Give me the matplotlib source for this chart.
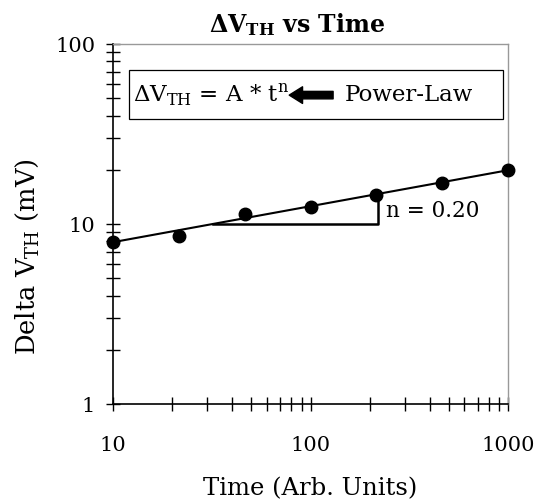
import numpy as np
import matplotlib
matplotlib.use("Agg")
from matplotlib import pyplot as plt
from matplotlib.patches import Rectangle

# data
time = [10, 21.5, 46.4, 100, 215, 464, 1000]
delta_vth = [7.9, 8.6, 11.4, 12.5, 14.4, 16.8, 20.0]

# power-law fit shown on the chart
fit_A = 5.0
fit_n = 0.20
fit_t = [10, 1000]

# slope triangle corners (x range at y = 10)
tri_t = [32, 220]
tri_y = 10

plt.rcParams['font.family'] = ['DejaVu Serif']
plt.rcParams['mathtext.fontset'] = 'custom'
plt.rcParams['mathtext.rm'] = 'DejaVu Serif'
plt.rcParams['mathtext.bf'] = 'DejaVu Serif:bold'

fig = plt.figure(figsize=(5.35, 5.0), dpi=100)
ax = fig.add_axes([0.211, 0.192, 0.739, 0.72])

fit_y = [fit_A * t ** fit_n for t in fit_t]
ax.plot(fit_t, fit_y, color='black', lw=1.5, zorder=2, clip_on=False)
ax.plot(time, delta_vth, 'o', color='black', ms=9, zorder=3, clip_on=False)

# triangle showing the slope
ax.plot([tri_t[0], tri_t[1], tri_t[1]],
        [tri_y, tri_y, fit_A * tri_t[1] ** fit_n], color='black', lw=1.8, zorder=2)
ax.text(tri_t[1] * 1.09, 11.8, 'n = %.2f' % fit_n, fontsize=15.5, va='center', ha='left')

ax.set_xscale('log')
ax.set_yscale('log')
ax.set_xlim(10, 1000)
ax.set_ylim(1, 100)
ax.set_xticks([10, 100, 1000])
ax.set_xticklabels(['10', '100', '1000'])
ax.set_yticks([1, 10, 100])
ax.set_yticklabels(['1', '10', '100'])

ax.tick_params(which='both', direction='inout', width=1, colors='black', length=9.5)
ax.tick_params(which='major', labelsize=15)
ax.tick_params(axis='y', which='major', pad=8)
ax.tick_params(axis='x', which='major', pad=18)

for s in ['left', 'bottom']:
    ax.spines[s].set_linewidth(1.2)
for s in ['top', 'right']:
    ax.spines[s].set_color('#999999')
    ax.spines[s].set_linewidth(1)

fig.text(0.555, 0.936, r'$\mathbf{\Delta V_{TH}}$ vs Time', fontsize=17, fontweight='bold',
         ha='center', va='baseline')
ax.set_xlabel('Time (Arb. Units)', fontsize=17.5, labelpad=16)
ax.set_ylabel(r'Delta V$_{\mathrm{TH}}$ (mV)', fontsize=18.5)
ax.yaxis.set_label_coords(-0.183, 0.41)

# equation box
ax.add_patch(Rectangle((0.0405, 0.792), 0.9465, 0.136, transform=ax.transAxes,
                       fill=False, edgecolor='black', lw=0.9, zorder=4))
ax.text(0.0506, 0.858, r'$\Delta$V$_{\mathrm{TH}}$ = A * t$^{\mathrm{n}}$', transform=ax.transAxes,
        fontsize=16.5, va='center', ha='left')
ax.annotate('', xy=(0.446, 0.858), xytext=(0.557, 0.858), xycoords='axes fraction',
            arrowprops=dict(arrowstyle='simple,head_length=0.8,head_width=1.0,tail_width=0.45',
                            color='black', mutation_scale=12, shrinkA=0, shrinkB=0))
ax.text(0.587, 0.858, 'Power-Law', transform=ax.transAxes, fontsize=16.5, va='center', ha='left')

fig.savefig('out.png', dpi=100)
